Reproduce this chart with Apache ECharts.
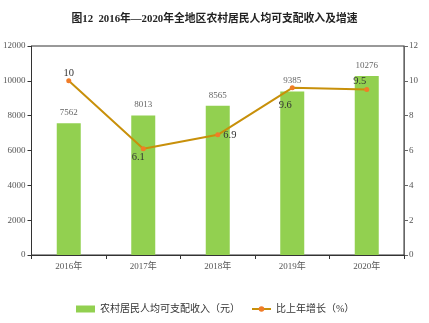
<!DOCTYPE html>
<html>
<head>
<meta charset="utf-8">
<script src="https://cdn.jsdelivr.net/npm/echarts@6/dist/echarts.min.js"></script>
<style>
  html, body { margin: 0; padding: 0; background: #fff; }
  #chart { width: 429px; height: 323px; }
</style>
</head>
<body>
<div id="chart"></div>
<script>
// Rural per-capita disposable income and its year-on-year growth, 2016–2020
const years = ['2016年', '2017年', '2018年', '2019年', '2020年'];
const income = [7562, 8013, 8565, 9385, 10276];
const growth = [10, 6.1, 6.9, 9.6, 9.5];
const growthLabelPos = ['top', 'bottom', 'right', 'bottom', 'top'];
const growthLabelOffset = [[0, 3], [-5, -2], [0, 0], [-7, 7], [-7, 2]];
const leftTicks = [0, 2000, 4000, 6000, 8000, 10000, 12000];
const rightTicks = [0, 2, 4, 6, 8, 10, 12];

const serif = '"Liberation Serif", "Noto Sans CJK SC", serif';
const chart = echarts.init(document.getElementById('chart'));

chart.setOption({
  animation: false,
  title: {
    text: '图12  2016年—2020年全地区农村居民人均可支配收入及增速',
    left: 'center',
    top: 9,
    textStyle: { fontSize: 10.8, fontWeight: 'bold', color: '#222', fontFamily: serif }
  },
  grid: { left: 29, right: 25, top: 46, bottom: 68, show: true, borderColor: '#333', borderWidth: 1 },
  legend: {
    bottom: 4,
    left: 71,
    itemGap: 11,
    itemWidth: 19,
    itemHeight: 7,
    textStyle: { fontSize: 10, color: '#333', fontFamily: serif },
    data: [
      { name: '农村居民人均可支配收入（元）', icon: 'rect' },
      { name: '比上年增长（%）' }
    ]
  },
  xAxis: {
    type: 'category',
    data: years,
    axisLine: { lineStyle: { color: '#333' } },
    axisTick: { show: true, length: 4, lineStyle: { color: '#333' } },
    axisLabel: { fontSize: 9, color: '#555', fontFamily: serif, margin: 7 }
  },
  yAxis: [
    {
      type: 'value', min: 0, max: 12000, interval: 2000,
      axisLine: { show: true, lineStyle: { color: '#333' } },
      axisTick: { show: true, length: 4, lineStyle: { color: '#333' } },
      splitLine: { show: false },
      axisLabel: {
        fontSize: 9, color: '#555', fontFamily: serif, margin: 6,
        formatter: v => leftTicks.includes(v) ? String(v) : ''
      }
    },
    {
      type: 'value', min: 0, max: 12, interval: 2,
      axisLine: { show: true, lineStyle: { color: '#666' } },
      axisTick: { show: true, length: 4, lineStyle: { color: '#666' } },
      splitLine: { show: false },
      axisLabel: {
        fontSize: 9, color: '#555', fontFamily: serif, margin: 5,
        formatter: v => rightTicks.includes(v) ? String(v) : ''
      }
    }
  ],
  series: [
    {
      name: '农村居民人均可支配收入（元）',
      type: 'bar',
      data: income,
      barWidth: 24,
      itemStyle: { color: '#92D050' },
      label: {
        show: true, position: 'top', distance: 6,
        fontSize: 9, color: '#666', fontFamily: serif
      }
    },
    {
      name: '比上年增长（%）',
      type: 'line',
      yAxisIndex: 1,
      data: growth.map((v, i) => ({
        value: v,
        label: { position: growthLabelPos[i], offset: growthLabelOffset[i] }
      })),
      symbol: 'circle',
      symbolSize: 5,
      lineStyle: { color: '#C8900A', width: 2 },
      itemStyle: { color: '#F07C28' },
      label: {
        show: true, distance: 3,
        fontSize: 10.5, color: '#333', fontFamily: serif
      }
    }
  ]
});
</script>
</body>
</html>
